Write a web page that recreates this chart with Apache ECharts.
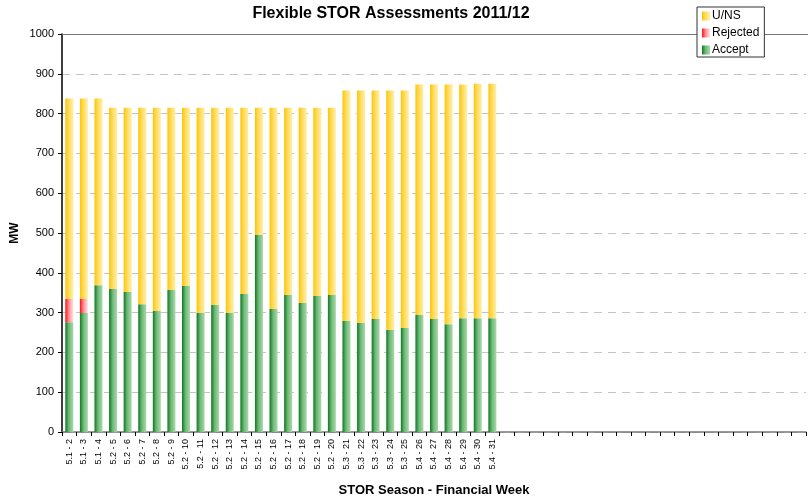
<!DOCTYPE html>
<html>
<head>
<meta charset="utf-8">
<script src="https://cdn.jsdelivr.net/npm/echarts@6/dist/echarts.min.js"></script>
<style>
  html, body { margin: 0; padding: 0; background: #fff; }
  #chart { width: 808px; height: 497px; }
</style>
</head>
<body>
<div id="chart"></div>
<script>
// STOR season - financial week labels (30 weeks with data)
const weeks = [
  '5.1 - 2', '5.1 - 3', '5.1 - 4', '5.2 - 5', '5.2 - 6', '5.2 - 7', '5.2 - 8', '5.2 - 9',
  '5.2 - 10', '5.2 - 11', '5.2 - 12', '5.2 - 13', '5.2 - 14', '5.2 - 15', '5.2 - 16',
  '5.2 - 17', '5.2 - 18', '5.2 - 19', '5.2 - 20', '5.3 - 21', '5.3 - 22', '5.3 - 23',
  '5.3 - 24', '5.3 - 25', '5.4 - 26', '5.4 - 27', '5.4 - 28', '5.4 - 29', '5.4 - 30', '5.4 - 31'
]
// empty slots on the right of the axis
const emptySlots = 21

const accept = [276, 299, 369, 359, 352, 321, 304, 357, 367, 299, 319, 299, 347, 495, 309,
  344, 324, 342, 344, 279, 274, 284, 256, 261, 294, 284, 271, 286, 286, 286]
const rejected = [58, 35, 0, 0, 0, 0, 0, 0, 0, 0, 0, 0, 0, 0, 0,
  0, 0, 0, 0, 0, 0, 0, 0, 0, 0, 0, 0, 0, 0, 0]
const uns = [504, 504, 469, 456, 463, 494, 511, 458, 448, 516, 496, 516, 468, 320, 506,
  471, 491, 473, 471, 579, 584, 574, 602, 597, 579, 589, 602, 587, 589, 589]

const yTicks = [0, 100, 200, 300, 400, 500, 600, 700, 800, 900, 1000]

const categories = weeks.concat(new Array(emptySlots).fill(''))

function grad(c0, c1, c2) {
  return new echarts.graphic.LinearGradient(0, 0, 1, 0, [
    { offset: 0, color: c0 },
    { offset: 0.45, color: c1 },
    { offset: 1, color: c2 }
  ])
}

const font = 'Liberation Sans, Arial, sans-serif'

const option = {
  animation: false,
  backgroundColor: '#fff',
  title: {
    text: 'Flexible STOR Assessments 2011/12',
    left: 386,
    textAlign: 'center',
    top: 1,
    textStyle: { fontFamily: font, fontSize: 16, fontWeight: 'bold', color: '#000' }
  },
  legend: {
    orient: 'vertical',
    left: 697,
    top: 7,
    padding: [3, 5, 1, 5],
    itemGap: 5,
    itemWidth: 8,
    itemHeight: 9,
    icon: 'rect',
    borderColor: '#333',
    borderWidth: 1,
    backgroundColor: '#fff',
    data: ['U/NS', 'Rejected', 'Accept'],
    textStyle: { fontFamily: font, fontSize: 12, color: '#000', padding: [0, 0, 0, -3] }
  },
  grid: { left: 62, right: 2, top: 34, bottom: 65, containLabel: false, outerBoundsMode: 'none' },
  xAxis: {
    type: 'category',
    data: categories,
    name: 'STOR Season - Financial Week',
    nameLocation: 'middle',
    nameGap: 52,
    nameMoveOverlap: false,
    nameTextStyle: { fontFamily: font, fontSize: 13, fontWeight: 'bold', color: '#000' },
    axisLine: { lineStyle: { color: '#777', width: 1.5 } },
    axisTick: { show: true, alignWithLabel: false, interval: 0, length: 4, lineStyle: { color: '#000' } },
    axisLabel: { interval: 0, rotate: 90, fontFamily: font, fontSize: 9, color: '#000', margin: 7 }
  },
  yAxis: {
    type: 'value',
    min: yTicks[0],
    max: yTicks[yTicks.length - 1],
    interval: 100,
    name: 'MW',
    nameLocation: 'middle',
    nameGap: 41,
    nameMoveOverlap: false,
    nameTextStyle: { fontFamily: font, fontSize: 12, fontWeight: 'bold', color: '#000' },
    axisLine: { show: true, lineStyle: { color: '#000', width: 1.5 } },
    axisTick: { show: true, length: 4, lineStyle: { color: '#000' } },
    axisLabel: { fontFamily: font, fontSize: 11, color: '#000', margin: 8, formatter: v => String(v) },
    splitLine: { lineStyle: { color: '#c4c4c4', type: [8, 6], width: 1 } }
  },
  series: [
    {
      name: 'Accept',
      type: 'bar',
      stack: 'mw',
      barWidth: 8,
      data: accept,
      itemStyle: { color: grad('#0c7a1e', '#6fb879', '#a9d9a9') }
    },
    {
      name: 'Rejected',
      type: 'bar',
      stack: 'mw',
      barWidth: 8,
      data: rejected,
      itemStyle: { color: grad('#ff1010', '#ff8c96', '#ffe4e4') }
    },
    {
      name: 'U/NS',
      type: 'bar',
      stack: 'mw',
      barWidth: 8,
      data: uns,
      itemStyle: { color: grad('#ffc400', '#ffdc60', '#fff0a8') }
    }
  ]
}

const chart = echarts.init(document.getElementById('chart'))
chart.setOption(option)

// solid frame line along the top of the plot (1000 MW)
chart.setOption({
  graphic: [{
    type: 'line',
    z: 1,
    shape: { x1: 62, y1: 34.5, x2: 808, y2: 34.5 },
    style: { stroke: '#777', lineWidth: 1 }
  }]
})
</script>
</body>
</html>
